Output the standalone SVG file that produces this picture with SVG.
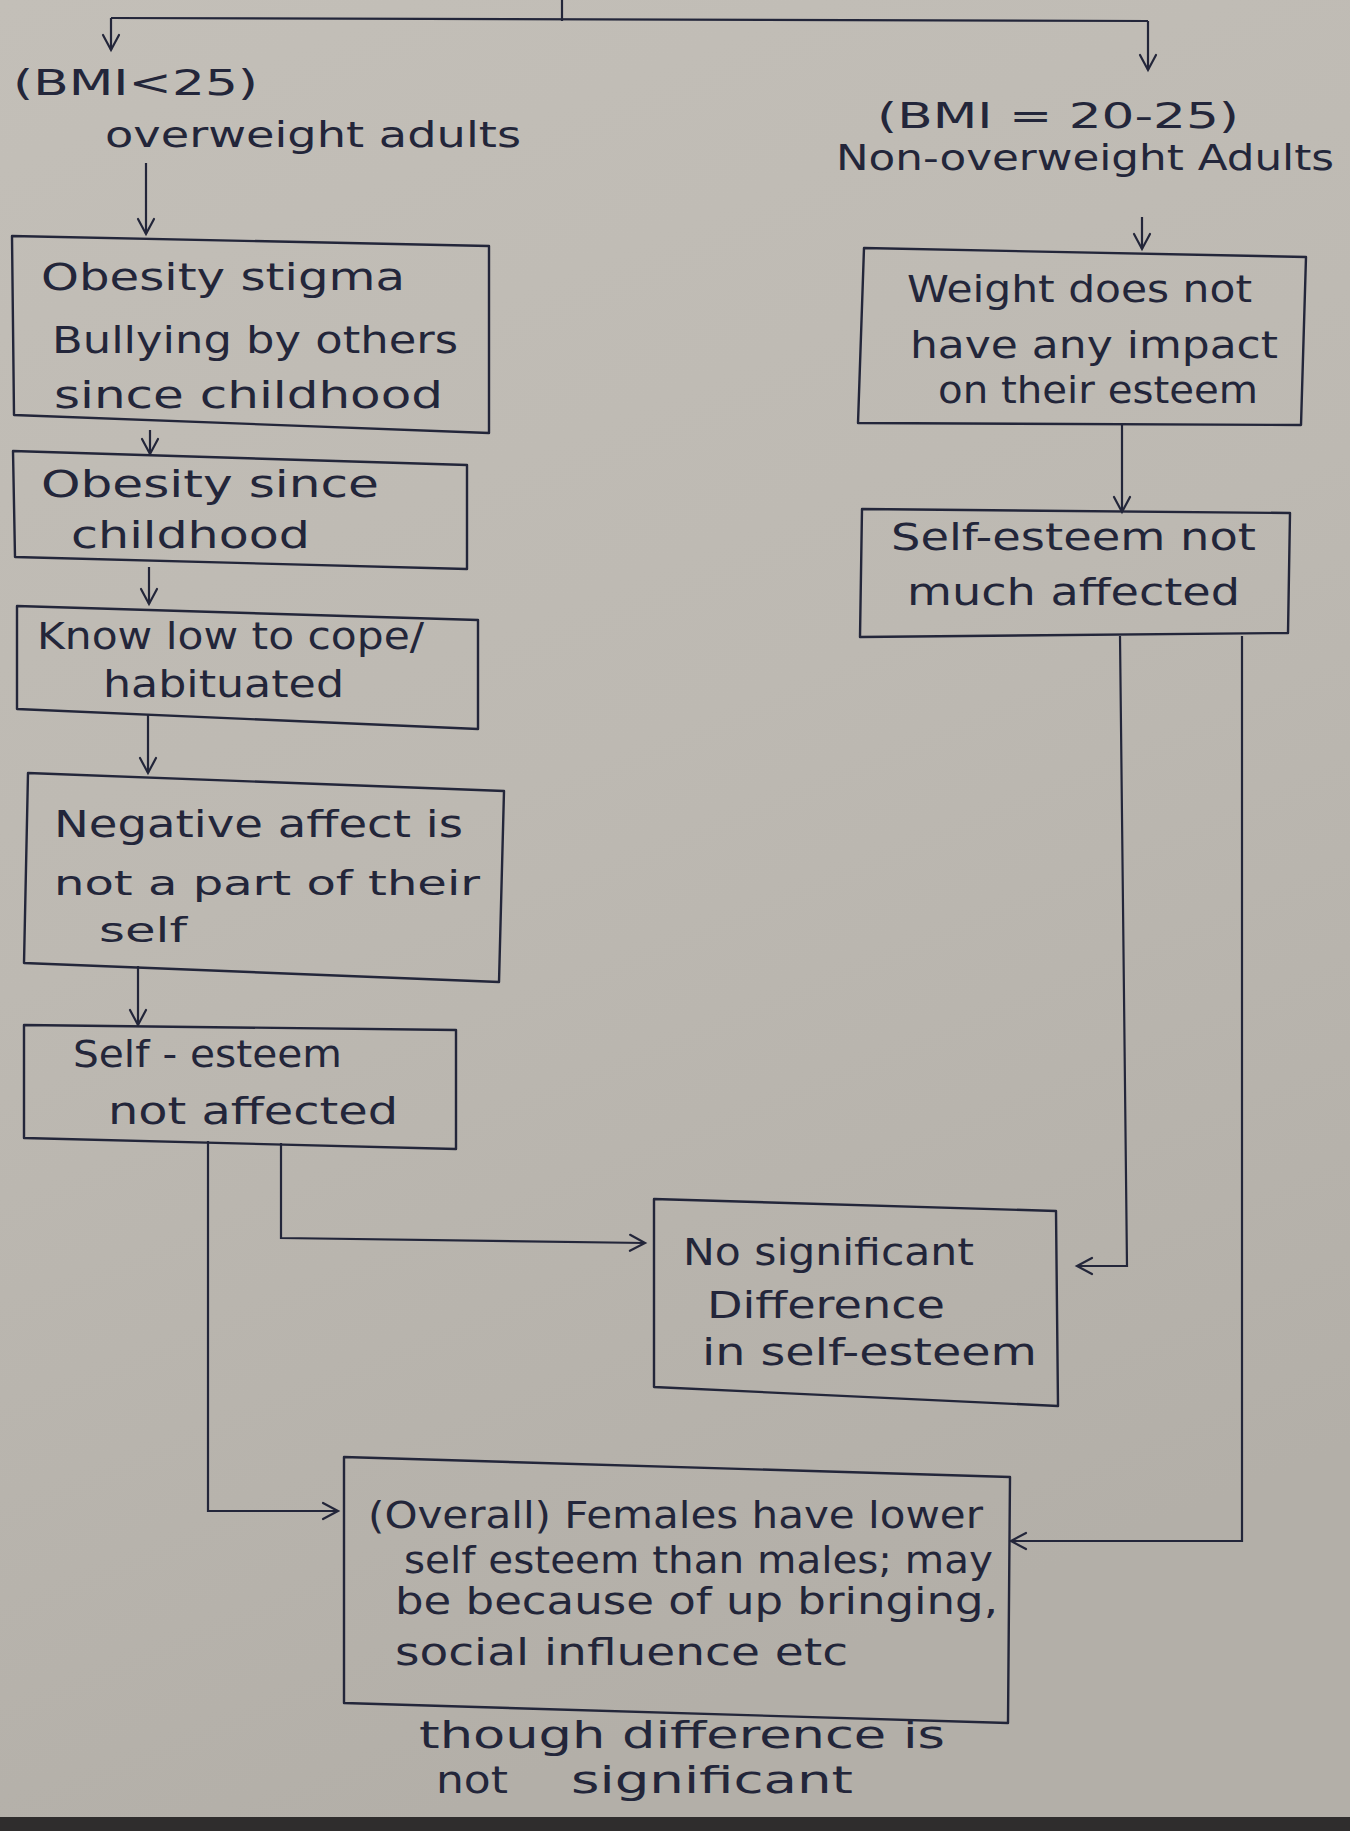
<svg xmlns="http://www.w3.org/2000/svg" width="1350" height="1831" viewBox="0 0 1350 1831">
<defs>
<linearGradient id="paper" x1="0" y1="0" x2="0.3" y2="1">
<stop offset="0" stop-color="#c3bfb8"/>
<stop offset="0.5" stop-color="#bdb9b2"/>
<stop offset="1" stop-color="#b3afa8"/>
</linearGradient>
<marker id="arr" viewBox="0 0 24 24" refX="21" refY="12" markerWidth="24" markerHeight="24" markerUnits="userSpaceOnUse" orient="auto">
<path d="M6,4 L21,12 L6,20" fill="none" stroke="#23263a" stroke-width="2.2" stroke-linecap="round"/>
</marker>
</defs>
<style>
.box{fill:none;stroke:#23263a;stroke-width:2.4;stroke-linejoin:round}
.con{fill:none;stroke:#23263a;stroke-width:2.2}
.t{font-family:"DejaVu Sans","Liberation Sans",sans-serif;font-size:38px;fill:#23263a}
.s{font-size:33px}
.l{font-family:"DejaVu Sans","Liberation Sans",sans-serif;font-size:36px;fill:#23263a}
</style>
<rect x="0" y="0" width="1350" height="1831" fill="url(#paper)"/>
<rect x="0" y="1817" width="1350" height="14" fill="#2f2d2d"/>

<g id="connectors">
<path class="con" d="M562,0 V21"/>
<path class="con" d="M111,18 L1148,21"/>
<path class="con" d="M111,18 V50" marker-end="url(#arr)"/>
<path class="con" d="M1148,21 V70" marker-end="url(#arr)"/>
<path class="con" d="M146,163 V234" marker-end="url(#arr)"/>
<path class="con" d="M150,430 V454" marker-end="url(#arr)"/>
<path class="con" d="M149,567 V604" marker-end="url(#arr)"/>
<path class="con" d="M148,715 V773" marker-end="url(#arr)"/>
<path class="con" d="M138,966 V1025" marker-end="url(#arr)"/>
<path class="con" d="M208,1141 V1511 H338" marker-end="url(#arr)"/>
<path class="con" d="M281,1143 V1238 L645,1243" marker-end="url(#arr)"/>
<path class="con" d="M1142,217 V249" marker-end="url(#arr)"/>
<path class="con" d="M1122,425 V512" marker-end="url(#arr)"/>
<path class="con" d="M1120,636 L1127,1266 H1077" marker-end="url(#arr)"/>
<path class="con" d="M1242,636 V1541 H1011" marker-end="url(#arr)"/>
</g>

<g id="label-overweight">
<text class="l" x="13" y="95" textLength="245" lengthAdjust="spacingAndGlyphs">(BMI&lt;25)</text>
<text class="l" x="105" y="147" textLength="416" lengthAdjust="spacingAndGlyphs">overweight adults</text>
</g>

<g id="label-nonoverweight">
<text class="l" x="877" y="128" textLength="362" lengthAdjust="spacingAndGlyphs">(BMI = 20-25)</text>
<text class="l" x="836" y="170" textLength="498" lengthAdjust="spacingAndGlyphs">Non-overweight Adults</text>
</g>

<g id="box-stigma">
<path class="box" d="M12,236 L489,246 L489,433 L14,415 Z"/>
<text class="t" x="41" y="290" textLength="364" lengthAdjust="spacingAndGlyphs">Obesity stigma</text>
<text class="t" x="52" y="353" textLength="406" lengthAdjust="spacingAndGlyphs">Bullying by others</text>
<text class="t" x="54" y="408" textLength="389" lengthAdjust="spacingAndGlyphs">since childhood</text>
</g>

<g id="box-obesity-childhood">
<path class="box" d="M13,451 L467,465 L467,569 L15,557 Z"/>
<text class="t" x="41" y="497" textLength="338" lengthAdjust="spacingAndGlyphs">Obesity since</text>
<text class="t" x="71" y="548" textLength="239" lengthAdjust="spacingAndGlyphs">childhood</text>
</g>

<g id="box-cope">
<path class="box" d="M17,606 L478,620 L478,729 L17,709 Z"/>
<text class="t" x="37" y="649" textLength="387" lengthAdjust="spacingAndGlyphs">Know low to cope/</text>
<text class="t" x="103" y="697" textLength="241" lengthAdjust="spacingAndGlyphs">habituated</text>
</g>

<g id="box-negative">
<path class="box" d="M28,773 L504,791 L499,982 L24,963 Z"/>
<text class="t" x="54" y="837" textLength="409" lengthAdjust="spacingAndGlyphs">Negative affect is</text>
<text class="t s" x="54" y="895" textLength="426" lengthAdjust="spacingAndGlyphs">not a part of their</text>
<text class="t s" x="99" y="942" textLength="88" lengthAdjust="spacingAndGlyphs">self</text>
</g>

<g id="box-not-affected">
<path class="box" d="M24,1025 L456,1030 L456,1149 L24,1138 Z"/>
<text class="t" x="73" y="1067" textLength="269" lengthAdjust="spacingAndGlyphs">Self - esteem</text>
<text class="t" x="108" y="1124" textLength="290" lengthAdjust="spacingAndGlyphs">not affected</text>
</g>

<g id="box-weight-no-impact">
<path class="box" d="M864,248 L1306,257 L1301,425 L858,423 Z"/>
<text class="t" x="907" y="302" textLength="345" lengthAdjust="spacingAndGlyphs">Weight does not</text>
<text class="t" x="910" y="358" textLength="368" lengthAdjust="spacingAndGlyphs">have any impact</text>
<text class="t" x="938" y="403" textLength="320" lengthAdjust="spacingAndGlyphs">on their esteem</text>
</g>

<g id="box-not-much-affected">
<path class="box" d="M862,509 L1290,513 L1288,633 L860,637 Z"/>
<text class="t" x="891" y="550" textLength="365" lengthAdjust="spacingAndGlyphs">Self-esteem not</text>
<text class="t" x="907" y="605" textLength="333" lengthAdjust="spacingAndGlyphs">much affected</text>
</g>

<g id="box-no-difference">
<path class="box" d="M654,1199 L1056,1211 L1058,1406 L654,1387 Z"/>
<text class="t" x="683" y="1265" textLength="291" lengthAdjust="spacingAndGlyphs">No significant</text>
<text class="t" x="707" y="1318" textLength="238" lengthAdjust="spacingAndGlyphs">Difference</text>
<text class="t" x="702" y="1365" textLength="335" lengthAdjust="spacingAndGlyphs">in self-esteem</text>
</g>

<g id="box-females">
<path class="box" d="M344,1457 L1010,1477 L1008,1723 L344,1703 Z"/>
<text class="t" x="368" y="1528" textLength="615" lengthAdjust="spacingAndGlyphs">(Overall) Females have lower</text>
<text class="t" x="404" y="1573" textLength="589" lengthAdjust="spacingAndGlyphs">self esteem than males; may</text>
<text class="t" x="395" y="1614" textLength="603" lengthAdjust="spacingAndGlyphs">be because of up bringing,</text>
<text class="t" x="395" y="1665" textLength="453" lengthAdjust="spacingAndGlyphs">social influence etc</text>
</g>

<g id="label-note">
<text class="t" x="419" y="1748" textLength="526" lengthAdjust="spacingAndGlyphs">though difference is</text>
<text class="t"><tspan x="436" y="1793" textLength="72" lengthAdjust="spacingAndGlyphs">not</tspan> <tspan x="571" y="1793" textLength="282" lengthAdjust="spacingAndGlyphs">significant</tspan></text>
</g>
</svg>
